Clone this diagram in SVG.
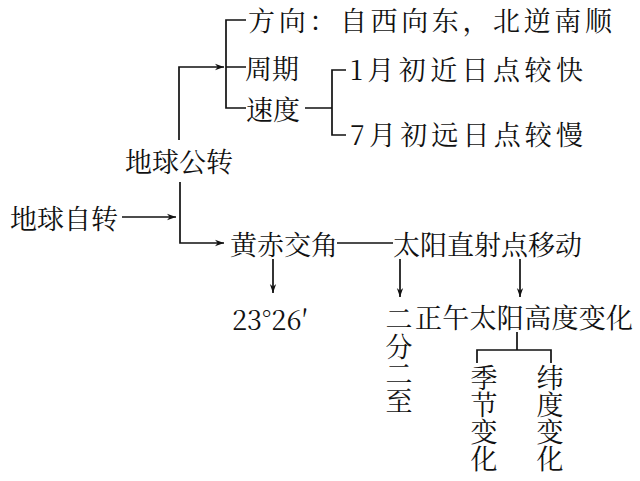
<svg xmlns="http://www.w3.org/2000/svg" width="640" height="481" viewBox="0 0 640 481">
<style>
text{font-family:"Noto Serif CJK SC","Noto Sans CJK SC",sans-serif;font-size:27px;fill:#111;dominant-baseline:central}
.l{stroke:#111;stroke-width:1.7;fill:none}
.v{text-anchor:middle}
</style>
<defs><marker id="a" viewBox="0 0 10 10" refX="10" refY="5" markerWidth="9" markerHeight="9" markerUnits="userSpaceOnUse" orient="auto"><path d="M0,1.5L10,5L0,8.5L3,5z" fill="#111"/></marker></defs>
<rect width="640" height="481" fill="#fff"/>
<g id="connectors" class="l">
<path d="M246,20H226V108H246M226,67H246"/>
<path d="M179,140V67H224" marker-end="url(#a)"/>
<path d="M305,108H332M346,70H332V135H346"/>
<path d="M122,217H176" marker-end="url(#a)"/>
<path d="M180,182V243H224" marker-end="url(#a)"/>
<path d="M337,243H393"/>
<path d="M273,259V293" marker-end="url(#a)"/>
<path d="M400,259V297" marker-end="url(#a)"/>
<path d="M520,259V297" marker-end="url(#a)"/>
<path d="M517,332V350M477,363V350H551V363"/>
</g>
<g id="n1"><text x="248" y="19" textLength="364" lengthAdjust="spacing">方向：自西向东，北逆南顺</text></g>
<g id="n2"><text x="245" y="67">周期</text></g>
<g id="n3"><text x="246" y="108">速度</text></g>
<g id="n4"><text x="350" y="68" textLength="233" lengthAdjust="spacing">1月初近日点较快</text></g>
<g id="n5"><text x="350" y="133" textLength="233" lengthAdjust="spacing">7月初远日点较慢</text></g>
<g id="n6"><text x="125" y="160">地球公转</text></g>
<g id="n7"><text x="10" y="217">地球自转</text></g>
<g id="n8"><text x="230" y="243">黄赤交角</text></g>
<g id="n9"><text x="393" y="243">太阳直射点移动</text></g>
<g id="n10"><text x="232" y="318">23°26′</text></g>
<g id="n11"><text x="399" y="317" class="v">二</text><text x="399" y="345" class="v">分</text><text x="399" y="372" class="v">二</text><text x="399" y="399" class="v">至</text></g>
<g id="n12"><text x="415" y="316" textLength="218" lengthAdjust="spacing">正午太阳高度变化</text></g>
<g id="n13"><text x="484" y="376" class="v">季</text><text x="484" y="403" class="v">节</text><text x="484" y="430" class="v">变</text><text x="484" y="457" class="v">化</text></g>
<g id="n14"><text x="550" y="376" class="v">纬</text><text x="550" y="403" class="v">度</text><text x="550" y="430" class="v">变</text><text x="550" y="457" class="v">化</text></g>
</svg>
